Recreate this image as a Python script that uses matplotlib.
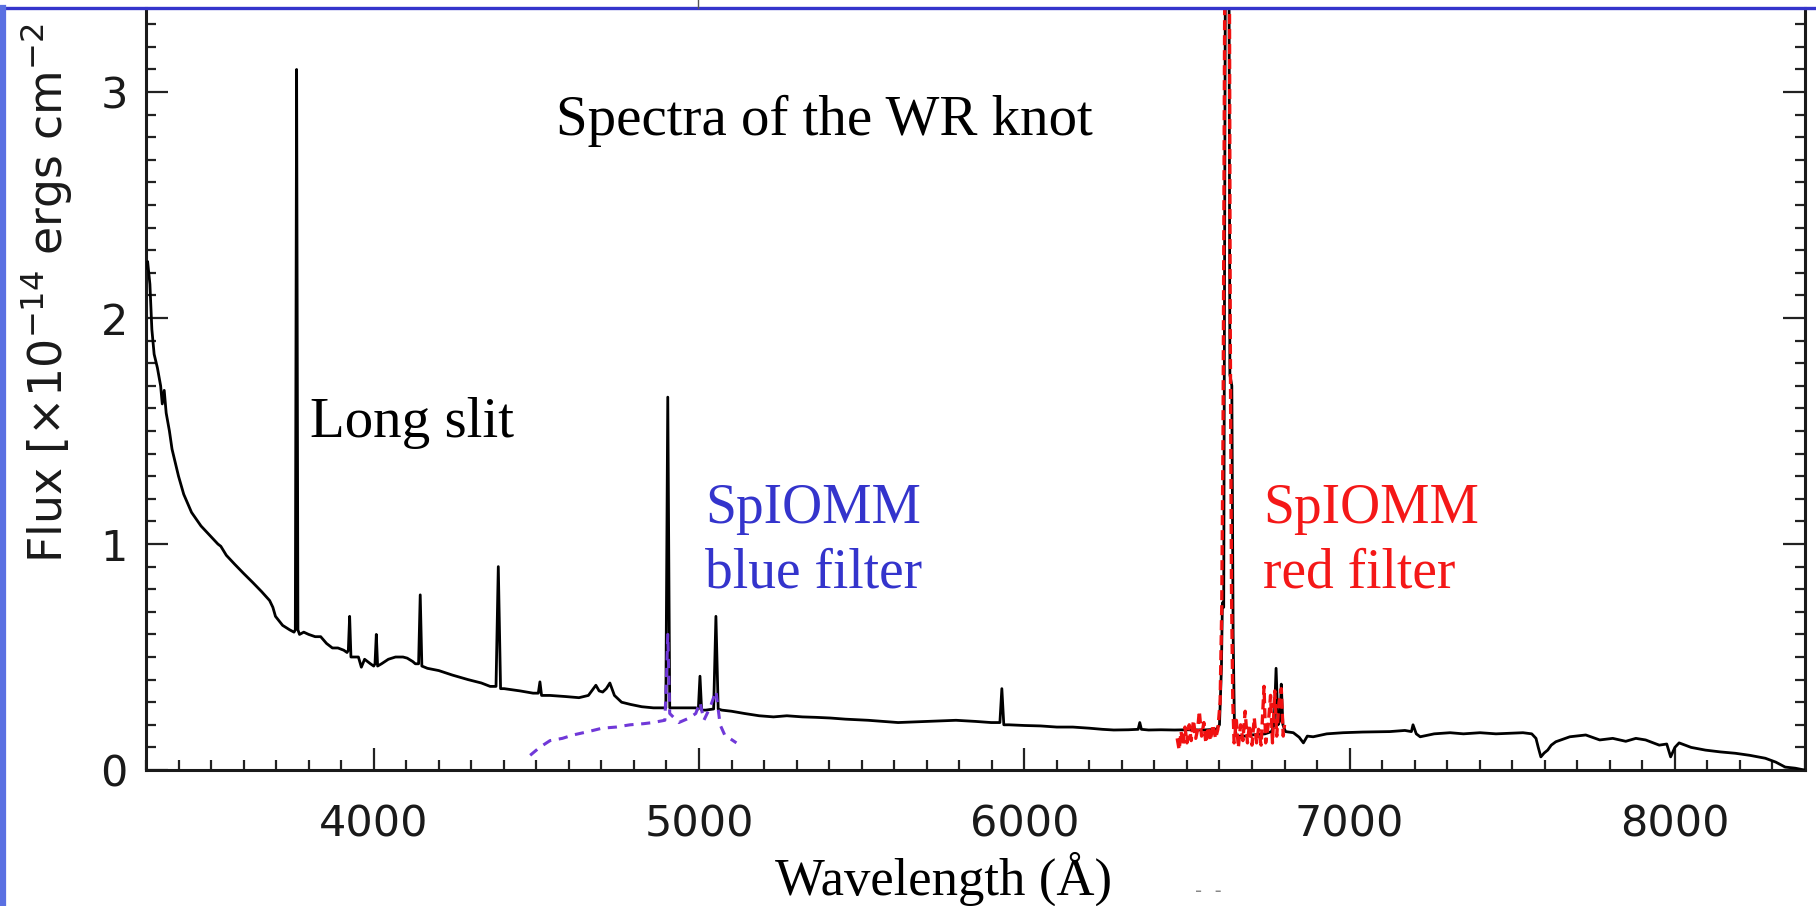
import numpy as np
import matplotlib
matplotlib.use('Agg')
import matplotlib.pyplot as plt
from matplotlib.lines import Line2D
from matplotlib.ticker import MultipleLocator, FixedLocator

# long slit spectrum (wavelength in A, flux in 1e-14 erg/cm2)
slit_wave = [3302, 3305, 3312, 3318, 3325, 3335, 3345, 3350, 3356, 3362, 3372, 3380, 3400, 3416,
             3440, 3469, 3495, 3521, 3530, 3547, 3573, 3600, 3628, 3655, 3680, 3690, 3698, 3720,
             3742, 3755, 3759, 3763, 3767, 3772, 3785, 3800, 3820, 3837, 3855, 3873, 3890, 3908,
             3918, 3922, 3926, 3930, 3940, 3953, 3962, 3972, 3990, 4000, 4004, 4008, 4012, 4024,
             4045, 4067, 4090, 4103, 4120, 4128, 4138, 4143, 4148, 4165, 4200, 4242, 4290, 4331,
             4358, 4376, 4383, 4390, 4401, 4450, 4490, 4506, 4511, 4516, 4542, 4590, 4631, 4660,
             4683, 4693, 4704, 4715, 4726, 4740, 4762, 4790, 4824, 4860, 4898, 4904, 4910, 4950,
             4990, 4998, 5003, 5008, 5021, 5045, 5052, 5059, 5070, 5100, 5140, 5185, 5229, 5270,
             5318, 5360, 5404, 5450, 5520, 5612, 5700, 5790, 5850, 5898, 5925, 5931, 5937, 5953,
             6000, 6050, 6100, 6149, 6200, 6240, 6275, 6320, 6350, 6355, 6360, 6382, 6420, 6462,
             6500, 6550, 6590, 6600, 6606, 6609, 6613, 6617, 6620, 6628, 6632, 6638, 6642, 6646,
             6652, 6680, 6700, 6740, 6760, 6768, 6774, 6780, 6786, 6790, 6795, 6803, 6827, 6845,
             6858, 6870, 6888, 6930, 6980, 7040, 7124, 7170, 7190, 7195, 7205, 7217, 7260, 7309,
             7350, 7401, 7450, 7533, 7560, 7573, 7580, 7588, 7598, 7609, 7620, 7634, 7677, 7726,
             7769, 7809, 7849, 7880, 7910, 7952, 7975, 7987, 8000, 8013, 8050, 8094, 8140, 8186,
             8230, 8278, 8310, 8339, 8370, 8398]
slit_flux = [2.22, 2.25, 2.15, 1.95, 1.84, 1.78, 1.70, 1.62, 1.68, 1.58, 1.50, 1.42, 1.30, 1.22,
             1.14, 1.08, 1.04, 1.00, 0.99, 0.95, 0.91, 0.87, 0.83, 0.79, 0.75, 0.72, 0.68, 0.64,
             0.62, 0.61, 0.62, 3.10, 0.62, 0.60, 0.61, 0.60, 0.59, 0.59, 0.56, 0.54, 0.54, 0.53,
             0.52, 0.53, 0.68, 0.50, 0.50, 0.50, 0.455, 0.49, 0.47, 0.46, 0.47, 0.60, 0.46, 0.47,
             0.49, 0.50, 0.50, 0.495, 0.48, 0.47, 0.47, 0.775, 0.46, 0.45, 0.44, 0.42, 0.40, 0.385,
             0.37, 0.37, 0.90, 0.36, 0.36, 0.35, 0.34, 0.34, 0.39, 0.33, 0.33, 0.325, 0.32, 0.33,
             0.375, 0.35, 0.345, 0.36, 0.385, 0.33, 0.30, 0.29, 0.28, 0.275, 0.275, 1.65, 0.275, 0.275,
             0.275, 0.27, 0.415, 0.265, 0.265, 0.27, 0.68, 0.27, 0.265, 0.26, 0.25, 0.24, 0.235, 0.24,
             0.235, 0.233, 0.23, 0.225, 0.22, 0.21, 0.215, 0.22, 0.215, 0.21, 0.21, 0.36, 0.20, 0.20,
             0.197, 0.195, 0.19, 0.19, 0.185, 0.18, 0.177, 0.178, 0.18, 0.21, 0.18, 0.177, 0.178, 0.177,
             0.178, 0.177, 0.18, 0.20, 0.45, 0.74, 0.72, 3.0, 4.5, 4.5, 1.75, 1.70, 0.60, 0.20,
             0.15, 0.15, 0.155, 0.16, 0.17, 0.20, 0.45, 0.20, 0.22, 0.38, 0.20, 0.17, 0.165, 0.145,
             0.12, 0.15, 0.147, 0.16, 0.165, 0.168, 0.17, 0.175, 0.17, 0.20, 0.16, 0.147, 0.16, 0.165,
             0.16, 0.165, 0.16, 0.165, 0.16, 0.14, 0.10, 0.058, 0.075, 0.088, 0.11, 0.125, 0.147, 0.155,
             0.133, 0.14, 0.127, 0.14, 0.133, 0.11, 0.115, 0.058, 0.10, 0.12, 0.10, 0.088, 0.08, 0.074,
             0.065, 0.052, 0.035, 0.013, 0.008, 0.0]

# SpIOMM blue filter spectrum
blue_wave = [4481, 4510, 4542, 4580, 4613, 4660, 4702, 4745, 4788, 4830, 4858, 4895, 4900, 4904,
             4910, 4938, 4970, 4990, 5003, 5015, 5035, 5052, 5065, 5079, 5115]
blue_flux = [0.065, 0.10, 0.13, 0.14, 0.155, 0.17, 0.185, 0.19, 0.20, 0.205, 0.21, 0.22, 0.40, 0.60,
             0.25, 0.21, 0.23, 0.25, 0.30, 0.22, 0.28, 0.35, 0.20, 0.155, 0.12]

# SpIOMM red filter spectrum
red_wave = [6470, 6476, 6482, 6488, 6494, 6500, 6507, 6513, 6520, 6527, 6533, 6538, 6545, 6552,
            6558, 6565, 6572, 6580, 6588, 6595, 6602, 6607, 6611, 6615, 6619, 6629, 6633, 6637,
            6641, 6645, 6652, 6658, 6665, 6672, 6679, 6686, 6692, 6700, 6707, 6714, 6720, 6728,
            6737, 6742, 6750, 6757, 6763, 6770, 6776, 6783, 6790, 6796, 6800]
red_flux = [0.14, 0.09, 0.17, 0.11, 0.19, 0.12, 0.20, 0.13, 0.22, 0.14, 0.18, 0.26, 0.15, 0.21,
            0.12, 0.19, 0.13, 0.20, 0.14, 0.18, 0.30, 0.72, 1.5, 3.0, 4.5, 4.5, 2.0, 0.8,
            0.30, 0.12, 0.22, 0.10, 0.20, 0.13, 0.26, 0.12, 0.20, 0.11, 0.23, 0.12, 0.18, 0.11,
            0.37, 0.12, 0.20, 0.33, 0.12, 0.35, 0.15, 0.30, 0.36, 0.15, 0.20]

x_major = [4000, 5000, 6000, 7000, 8000]

W, H = 1816, 906
def fx(px):
    return px / W
def fy(py):
    return 1 - py / H

fig = plt.figure(figsize=(18.16, 9.06), dpi=100)
ax = fig.add_axes([fx(146), fy(770), fx(1805) - fx(146), fy(8) - fy(770)])

ax.plot(slit_wave, slit_flux, color='black', lw=2.0, zorder=3)
ax.plot(red_wave, red_flux, color='#f01010', lw=2.4, ls=(0, (3, 1.5)), zorder=4)
ax.plot(blue_wave, blue_flux, color='#7038d8', lw=2.2, ls=(0, (3, 2.5)), zorder=4)

ax.set_xlim(3300, 8400)
ax.set_ylim(0, 3.372)

ax.xaxis.set_major_locator(FixedLocator(x_major))
ax.xaxis.set_minor_locator(MultipleLocator(100))
ax.yaxis.set_major_locator(MultipleLocator(1))
ax.yaxis.set_minor_locator(MultipleLocator(0.1))

for side in ['left', 'bottom', 'right']:
    ax.spines[side].set_linewidth(2.2)
    ax.spines[side].set_color('#1a1a1a')
ax.spines['top'].set_visible(False)

ax.tick_params(axis='both', which='both', direction='in', color='#222222')
ax.tick_params(axis='both', which='major', length=16, width=1.6)
ax.tick_params(axis='both', which='minor', length=7, width=1.6)
ax.tick_params(axis='y', which='both', right=True, left=True)
ax.tick_params(axis='x', which='major', pad=24, labelsize=31, labelcolor='#1a1a1a')
ax.tick_params(axis='y', which='major', pad=13, labelsize=31, labelcolor='#1a1a1a')
for lab in ax.get_xticklabels() + ax.get_yticklabels():
    lab.set_family('DejaVu Sans')

# y label, rotated, top part cut off by the slide frame
fig.text(fx(46), fy(563), 'Flux [\u00d710$^{-14}$ ergs cm$^{-2}$', rotation=90,
         ha='center', va='bottom', fontsize=33, color='#1a1a1a', family='DejaVu Sans')

serif = 'Liberation Serif'
fig.text(fx(824), fy(135), 'Spectra of the WR knot', ha='center', va='baseline',
         fontsize=41, family=serif, color='black')
fig.text(fx(310), fy(437), 'Long slit', ha='left', va='baseline',
         fontsize=41, family=serif, color='black')
fig.text(fx(705), fy(523), 'SpIOMM', ha='left', va='baseline',
         fontsize=40, family=serif, color='#3434cc')
fig.text(fx(705), fy(588), 'blue filter', ha='left', va='baseline',
         fontsize=40, family=serif, color='#3434cc')
fig.text(fx(1263), fy(523), 'SpIOMM', ha='left', va='baseline',
         fontsize=40, family=serif, color='#f41818')
fig.text(fx(1263), fy(588), 'red filter', ha='left', va='baseline',
         fontsize=40, family=serif, color='#f41818')
fig.text(fx(944), fy(895), 'Wavelength (\u00c5)', ha='center', va='baseline',
         fontsize=38, family=serif, color='black')
fig.text(fx(1208), fy(897), '-  -', ha='center', va='baseline',
         fontsize=14, color='#888888')

# slide frame around the picture
fig.add_artist(Line2D([0, 1], [fy(8), fy(8)], transform=fig.transFigure,
                      color='#3535cc', lw=2.4, zorder=10))
fig.add_artist(Line2D([fx(3), fx(3)], [0, fy(8)], transform=fig.transFigure,
                      color='#5a70e2', lw=4.5, zorder=10))
fig.add_artist(Line2D([fx(698), fx(698)], [fy(8), 1], transform=fig.transFigure,
                      color='#555555', lw=1.0, zorder=10))

fig.savefig('out.png', dpi=100, facecolor='white')
